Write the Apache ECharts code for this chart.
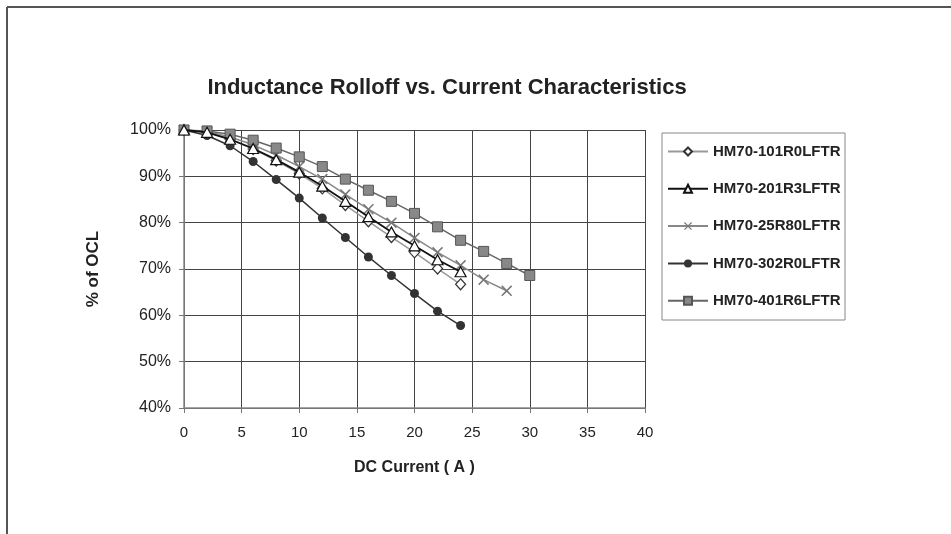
<!DOCTYPE html>
<html>
<head>
<meta charset="utf-8">
<script src="https://cdn.jsdelivr.net/npm/echarts@6/dist/echarts.min.js"></script>
<style>
html,body{margin:0;padding:0;background:#fff;}
#chart{width:951px;height:534px;}
</style>
</head>
<body>
<div id="chart"></div>
<script>
var seriesNames = ['HM70-101R0LFTR','HM70-201R3LFTR','HM70-25R80LFTR','HM70-302R0LFTR','HM70-401R6LFTR'];
var current24 = [0,2,4,6,8,10,12,14,16,18,20,22,24];
var current28 = [0,2,4,6,8,10,12,14,16,18,20,22,24,26,28];
var current30 = [0,2,4,6,8,10,12,14,16,18,20,22,24,26,28,30];
var ocl101R0 = [100,99.5,98,95.9,93.4,90.6,87.4,83.8,80.3,76.9,73.6,70.1,66.7];
var ocl201R3 = [100,99.5,98,96,93.6,90.9,87.9,84.6,81.3,78,75,72,69.4];
var ocl25R80 = [100,99.7,98.5,96.8,94.6,92.1,89.4,86.1,82.9,80,76.7,73.6,70.8,67.7,65.3];
var ocl302R0 = [100,98.8,96.6,93.2,89.3,85.3,81,76.8,72.6,68.6,64.7,60.9,57.8];
var ocl401R6 = [100,99.8,99.1,97.8,96.1,94.2,92.1,89.4,87,84.6,82,79.1,76.2,73.8,71.2,68.6];
var xTicks = [0,5,10,15,20,25,30,35,40];

function pairs(xs, ys){ return xs.map(function(x,i){ return [x, ys[i]]; }); }

var FONT = 'Liberation Sans, Arial, sans-serif';
var xSymbol = 'path://M0,1 L1,0 L5,4 L9,0 L10,1 L6,5 L10,9 L9,10 L5,6 L1,10 L0,9 L4,5 Z';

var chart = echarts.init(document.getElementById('chart'));
chart.setOption({
  backgroundColor:'#fff',
  animation:false,
  title:{
    text:'Inductance Rolloff vs. Current Characteristics',
    left:442, top:72, textAlign:'center',
    textStyle:{fontFamily:FONT, fontSize:22, fontWeight:'bold', color:'#222'}
  },
  grid:{left:184, top:130, width:461, height:278},
  xAxis:{
    type:'value', min:0, max:40, interval:5,
    name:'DC Current ( A )', nameLocation:'middle', nameGap:52,
    nameTextStyle:{fontFamily:FONT, fontSize:16, fontWeight:'bold', color:'#222'},
    axisLine:{show:true, onZero:false, lineStyle:{color:'#888', width:1.5}},
    axisTick:{show:true, length:5, lineStyle:{color:'#777'}},
    axisLabel:{margin:17, fontFamily:FONT, fontSize:15, color:'#222',
      formatter:function(v){ return xTicks.indexOf(v) >= 0 ? String(v) : ''; }},
    splitLine:{show:true, lineStyle:{color:'#444', width:1}}
  },
  yAxis:{
    type:'value', min:40, max:100, interval:10,
    name:'% of OCL', nameLocation:'middle', nameGap:82, nameRotate:90,
    nameTextStyle:{fontFamily:FONT, fontSize:17, fontWeight:'bold', color:'#222'},
    axisLine:{show:true, onZero:false, lineStyle:{color:'#888', width:1.5}},
    axisTick:{show:true, length:5, lineStyle:{color:'#777'}},
    axisLabel:{margin:13, fontFamily:FONT, fontSize:16, color:'#222', formatter:'{value}%'},
    splitLine:{show:true, lineStyle:{color:'#444', width:1}}
  },
  legend:{
    orient:'vertical', left:667, top:144, padding:0,
    itemWidth:40, itemHeight:10, itemGap:22.3,
    data:seriesNames,
    textStyle:{fontFamily:FONT, fontSize:15, fontWeight:'bold', color:'#222'}
  },
  graphic:[
    {type:'line', shape:{x1:7, y1:7, x2:951, y2:7}, style:{stroke:'#555', lineWidth:2}},
    {type:'line', shape:{x1:7, y1:7, x2:7, y2:534}, style:{stroke:'#555', lineWidth:2}},
    {type:'rect', shape:{x:662, y:133, width:183, height:187}, style:{fill:'none', stroke:'#888', lineWidth:1}}
  ],
  series:[
    {name:seriesNames[0], type:'line', data:pairs(current24, ocl101R0),
     symbol:'diamond', symbolSize:[10,11], showAllSymbol:true,
     lineStyle:{color:'#999', width:1.5},
     itemStyle:{color:'#fff', borderColor:'#333', borderWidth:1.2}, z:3},
    {name:seriesNames[1], type:'line', data:pairs(current24, ocl201R3),
     symbol:'triangle', symbolSize:[11,10], showAllSymbol:true,
     lineStyle:{color:'#111', width:1.8},
     itemStyle:{color:'#fff', borderColor:'#111', borderWidth:1.2}, z:4},
    {name:seriesNames[2], type:'line', data:pairs(current28, ocl25R80),
     symbol:xSymbol, symbolSize:11, showAllSymbol:true,
     lineStyle:{color:'#888', width:1.5},
     itemStyle:{color:'#777', borderWidth:0}, z:3},
    {name:seriesNames[3], type:'line', data:pairs(current24, ocl302R0),
     symbol:'circle', symbolSize:9, showAllSymbol:true,
     lineStyle:{color:'#333', width:1.5},
     itemStyle:{color:'#333', borderWidth:0}, z:3},
    {name:seriesNames[4], type:'line', data:pairs(current30, ocl401R6),
     symbol:'rect', symbolSize:10, showAllSymbol:true,
     lineStyle:{color:'#666', width:1.5},
     itemStyle:{color:'#888', borderColor:'#555', borderWidth:1}, z:3}
  ]
});
</script>
</body>
</html>
